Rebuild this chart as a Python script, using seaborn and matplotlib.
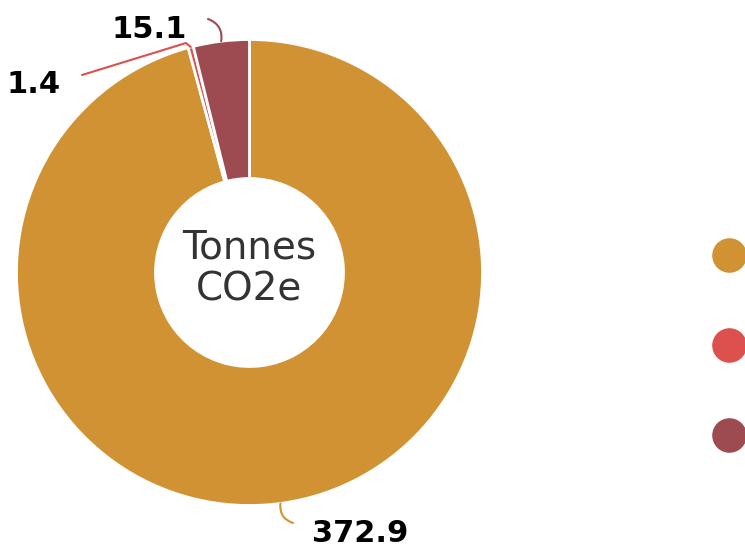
import matplotlib
matplotlib.use("Agg")
import matplotlib.pyplot as plt
import numpy as np
import seaborn as sns

# Datos del grafico
categorias = ["Categoria 1", "Categoria 2", "Categoria 3"]
valores = [372.9, 1.4, 15.1]
etiquetas = ["372.9", "1.4", "15.1"]
colores = sns.color_palette(["#D09233", "#DC504D", "#9E4A51"])

sns.set_style("white")
plt.rcParams["font.family"] = ["DejaVu Sans"]

W, H = 745, 550
fig = plt.figure(figsize=(W / 100, H / 100), dpi=100)
ax = fig.add_axes([0, 0, 1, 1])

cx, cy = 249.5, H - 272.5
r_ext, r_int = 233, 94

wedges, _ = ax.pie(valores, colors=colores, startangle=90, counterclock=False,
                   center=(cx, cy), radius=r_ext, frame=True,
                   wedgeprops=dict(width=r_ext - r_int, edgecolor="white", linewidth=2))
ax.set_xlim(0, W)
ax.set_ylim(0, H)
ax.set_aspect("equal")
ax.axis("off")

# Texto central
ax.text(cx, cy + 4, "Tonnes\nCO2e", ha="center", va="center", fontsize=28,
        color="#333333", linespacing=1.12)

# Etiquetas con lineas guia (inicio de la linea, posicion del texto)
guias = [
    ((293, 523), (360.5, 542), "arc3,rad=-0.4"),
    ((82, 75), (34, 93), None),
    ((208, 19), (149, 38), "arc3,rad=-0.4"),
]
for w, txt, col, (ini, pos, estilo) in zip(wedges, etiquetas, colores, guias):
    ang = np.deg2rad((w.theta1 + w.theta2) / 2)
    px, py = cx + r_ext * np.cos(ang), cy + r_ext * np.sin(ang)
    sx, sy = ini[0], H - ini[1]
    if estilo is None:
        ax.plot([sx, 186, px], [sy, H - 43, py], color=col, lw=1.5)
    else:
        ax.annotate("", xy=(px, py), xytext=(sx, sy),
                    arrowprops=dict(arrowstyle="-", color=col, lw=1.5,
                                    connectionstyle=estilo, shrinkA=0, shrinkB=0))
    ax.text(pos[0], H - pos[1], txt, ha="center", va="baseline",
            fontsize=22, fontweight="bold", color="black")

# Leyenda (solo los marcadores quedan dentro de la figura)
for i, (cat, col) in enumerate(zip(categorias, colores)):
    ax.scatter(728.5, H - (255 + 90 * i), s=570, color=col, clip_on=False, zorder=3)

fig.savefig("out.png", dpi=100)
